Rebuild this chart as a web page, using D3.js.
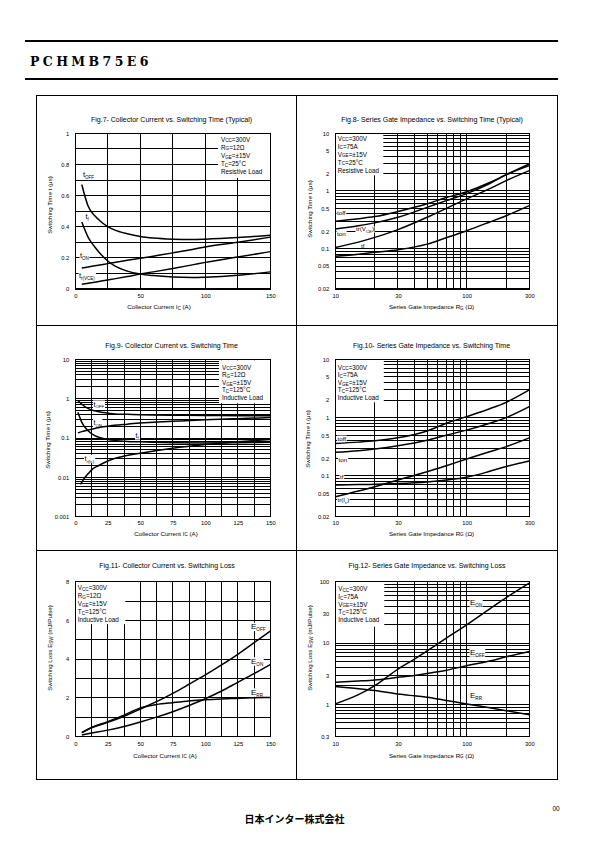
<!DOCTYPE html>
<html><head><meta charset="utf-8">
<script src="https://cdn.jsdelivr.net/npm/d3@7"></script>
<style>
body{margin:0;background:#fff}
svg{display:block}
text{font-family:"Liberation Sans",Arial,sans-serif;fill:#000}
</style>
</head><body>
<svg id="c" width="595" height="842"></svg>
<script>
// ---------------- DATA ----------------
// Fig.7  Collector current (A) vs switching time (us), Tc=25C resistive
const fig7Current = [5,10,15,20,25,30,40,50,60,75,90,100,125,150];
const fig7_tOFF  = [0.67,0.53,0.47,0.43,0.40,0.38,0.355,0.337,0.327,0.32,0.318,0.32,0.33,0.345];
const fig7_tf    = [0.43,0.33,0.27,0.22,0.18,0.15,0.115,0.096,0.086,0.077,0.074,0.076,0.088,0.11];
const fig7_tON   = [0.135,0.142,0.149,0.156,0.163,0.170,0.184,0.197,0.211,0.232,0.254,0.27,0.30,0.333];
const fig7_trVCE = [0.03,0.037,0.044,0.051,0.058,0.065,0.080,0.096,0.110,0.132,0.155,0.171,0.205,0.24];
const fig7YTicks = [0,0.2,0.4,0.6,0.8,1];
const fig7YLabels = ["0","0.2","0.4","0.6","0.8","1"];
const fig7XTicks = [0,50,100,150];
const fig7XGrid = [25,50,75,100,125];

// Fig.8  Series gate impedance (ohm) vs switching time (us), Tc=25C resistive
const fig8Rg   = [10,15,20,30,50,70,100,150,200,300];
const fig8_toff = [0.30,0.33,0.36,0.44,0.60,0.77,0.97,1.40,1.92,2.94];
const fig8_ton  = [0.22,0.25,0.28,0.35,0.52,0.68,0.90,1.35,1.90,2.75];
const fig8_tr   = [0.105,0.13,0.157,0.214,0.35,0.50,0.73,1.10,1.51,2.25];
const fig8_tf   = [0.074,0.080,0.0865,0.096,0.12,0.155,0.205,0.29,0.373,0.557];
const fig8YTicks = [0.02,0.05,0.1,0.2,0.5,1,2,5,10];
const fig8YLabels = ["0.02","0.05","0.1","0.2","0.5","1","2","5","10"];
const rgXTicks = [10,30,100,300];
const rgXLabels = ["10","30","100","300"];

// Fig.9  Collector current vs switching time, Tc=125C inductive
const fig9Current = [2,5,10,15,20,25,30,40,50,60,75,100,125,150];
const fig9_tOFF = [0.90,0.72,0.56,0.49,0.45,0.43,0.41,0.40,0.39,0.385,0.38,0.375,0.37,0.37];
const fig9_tON  = [0.135,0.145,0.16,0.175,0.19,0.20,0.21,0.225,0.24,0.25,0.265,0.29,0.31,0.33];
const fig9_tf   = [0.45,0.25,0.15,0.115,0.10,0.092,0.087,0.082,0.080,0.078,0.076,0.075,0.076,0.078];
const fig9CurrentTr = [4,6,8,10,13,18,25,35,50,75,100,125,150];
const fig9_trIc = [0.0066,0.0085,0.0105,0.0125,0.016,0.02,0.026,0.033,0.041,0.055,0.068,0.08,0.092];
const fig9YTicks = [0.001,0.01,0.1,1,10];
const fig9YLabels = ["0.001","0.01","0.1","1","10"];
const ic25Ticks = [0,25,50,75,100,125,150];
const ic12Grid = [12.5,25,37.5,50,62.5,75,87.5,100,112.5,125,137.5];

// Fig.10 Series gate impedance vs switching time, Tc=125C inductive
const fig10Rg = [10,15,20,30,50,70,100,150,200,300];
const fig10_toff = [0.36,0.38,0.40,0.45,0.59,0.80,1.04,1.42,1.83,2.98];
const fig10_ton  = [0.254,0.27,0.29,0.33,0.41,0.50,0.61,0.80,1.00,1.54];
const fig10_trIc = [0.044,0.055,0.0655,0.085,0.118,0.15,0.195,0.26,0.318,0.45];
const fig10_tf   = [0.070,0.071,0.0718,0.074,0.079,0.085,0.095,0.12,0.145,0.18];

// Fig.11 Collector current vs switching loss (mJ/pulse)
const fig11Current = [5,12.5,25,37.5,50,62.5,75,87.5,100,112.5,125,137.5,150];
const fig11_EOFF = [0.20,0.45,0.73,1.05,1.42,1.80,2.23,2.70,3.18,3.70,4.25,4.85,5.45];
const fig11_EON  = [0.08,0.18,0.33,0.52,0.75,1.00,1.28,1.60,1.95,2.35,2.80,3.25,3.72];
const fig11_ERR  = [0.20,0.47,0.77,1.10,1.48,1.65,1.75,1.84,1.90,1.94,1.97,2.00,2.02];
const fig11YTicks = [0,2,4,6,8];

// Fig.12 Series gate impedance vs switching loss
const fig12Rg = [10,15,20,30,40,50,70,100,150,200,300];
const fig12_EON  = [1.02,1.44,2.02,3.77,5.47,7.48,12.0,19.8,36,55,95];
const fig12_EOFF = [2.29,2.40,2.50,2.76,2.95,3.20,3.60,4.27,5.10,5.97,7.30];
const fig12_ERR  = [1.95,1.80,1.68,1.48,1.38,1.31,1.16,1.02,0.88,0.79,0.68];
const fig12YTicks = [0.3,1,3,10,30,100];
const fig12YLabels = ["0.3","1","3","10","30","100"];

// Condition legends
const legend7  = ["V_{CC}=300V","R_{G}=12Ω","V_{GE}=±15V","T_{C}=25°C","Resistive Load"];
const legend8  = ["V_{CC}=300V","I_{C}=75A","V_{GE}=±15V","T_{C}=25°C","Resistive Load"];
const legend9  = ["V_{CC}=300V","R_{G}=12Ω","V_{GE}=±15V","T_{C}=125°C","Inductive Load"];
const legend10 = ["V_{CC}=300V","I_{C}=75A","V_{GE}=±15V","T_{C}=125°C","Inductive Load"];
const legend11 = ["V_{CC}=300V","R_{G}=12Ω","V_{GE}=±15V","T_{C}=125°C","Inductive Load"];
const legend12 = ["V_{CC}=300V","I_{C}=75A","V_{GE}=±15V","T_{C}=125°C","Inductive Load"];

// ---------------- DRAWING ----------------
const svg = d3.select("#c");

// "_{...}" segments are drawn as subscripts
function rich(t, str, subSize, subDy){
  const parts = str.split(/(_\{[^}]*\})/).filter(s => s.length);
  let level = 0;
  parts.forEach(p => {
    const isSub = p.startsWith("_{");
    const lv = isSub ? 1 : 0;
    const s = t.append("tspan").text(isSub ? p.slice(2, -1) : p);
    if (isSub) s.attr("font-size", subSize);
    if (lv !== level) s.attr("dy", (lv - level) * subDy);
    level = lv;
  });
}

// page frame
svg.append("line").attr("x1",25).attr("x2",558).attr("y1",41).attr("y2",41).attr("stroke","#000").attr("stroke-width",2);
svg.append("line").attr("x1",25).attr("x2",558).attr("y1",79).attr("y2",79).attr("stroke","#000").attr("stroke-width",2);
svg.append("text").attr("x",30).attr("y",65.5).attr("font-size",12.5).attr("font-weight","bold").attr("letter-spacing",3.4)
  .style("font-family","'DejaVu Serif','Liberation Serif',serif").text("PCHMB75E6");
const box = svg.append("g").attr("stroke","#000").attr("stroke-width",1).attr("fill","none").attr("shape-rendering","crispEdges");
box.append("rect").attr("x",36.5).attr("y",95.5).attr("width",520.5).attr("height",683.5);
box.append("line").attr("x1",296).attr("x2",296).attr("y1",95.5).attr("y2",779);
box.append("line").attr("x1",36.5).attr("x2",557).attr("y1",325).attr("y2",325);
box.append("line").attr("x1",36.5).attr("x2",557).attr("y1",550).attr("y2",550);
svg.append("text").attr("x",556).attr("y",810.5).attr("text-anchor","middle").attr("font-size",6.5).text("00");
svg.append("text").attr("x",294.5).attr("y",822.5).attr("text-anchor","middle").attr("font-size",10)
  .attr("font-weight","bold").style("font-family","'Noto Sans CJK JP',sans-serif").text("日本インター株式会社");

function chart(c){
  const g = svg.append("g");
  const x = (c.xLog ? d3.scaleLog() : d3.scaleLinear()).domain(c.xDomain).range([c.left, c.right]);
  const y = (c.yLog ? d3.scaleLog() : d3.scaleLinear()).domain(c.yDomain).range([c.bottom, c.top]);
  const yGrid = c.yLog ? y.ticks() : y.ticks(10);
  const xGrid = c.xGrid || x.ticks();
  const grid = g.append("g").attr("stroke","#000").attr("stroke-width",1).attr("shape-rendering","crispEdges");
  grid.selectAll(".h").data(yGrid).join("line").attr("x1",c.left).attr("x2",c.right)
    .attr("y1",d=>y(d)).attr("y2",d=>y(d));
  grid.selectAll(".v").data(xGrid).join("line").attr("y1",c.top).attr("y2",c.bottom)
    .attr("x1",d=>x(d)).attr("x2",d=>x(d));
  const bgLayer = g.append("g");
  // legend box
  const lb = c.legendBox;
  g.append("rect").attr("x",lb[0]).attr("y",lb[1]).attr("width",lb[2]).attr("height",lb[3]).attr("fill","#fff");
  c.legend.forEach((s,i)=>{
    const t = g.append("text").attr("x",lb[0]+c.legendPad).attr("y",c.legendY0 + i*c.legendDy).attr("font-size",6.3);
    rich(t, s, 4.6, 0.8);
  });
  // frame
  g.append("rect").attr("x",c.left).attr("y",c.top).attr("width",c.right-c.left).attr("height",c.bottom-c.top)
    .attr("fill","none").attr("stroke","#000").attr("stroke-width",1.2).attr("shape-rendering","crispEdges");
  // axes labels
  const ya = g.append("g").attr("transform",`translate(${c.left},0)`)
    .call(d3.axisLeft(y).tickValues(c.yTicks).tickFormat((d,i)=>c.yLabels[i]).tickSize(0).tickPadding(6));
  const xa = g.append("g").attr("transform",`translate(0,${c.bottom})`)
    .call(d3.axisBottom(x).tickValues(c.xTicks).tickFormat((d,i)=>c.xLabels[i]).tickSize(0).tickPadding(c.xPad));
  [ya,xa].forEach(a=>{a.select(".domain").remove(); a.selectAll("text").attr("font-size",5.8).style("font-family","'Liberation Sans',Arial,sans-serif");});
  // curve labels (white backing sits under the curves)
  c.labels.forEach(L=>{
    const t = g.append("text").attr("x",L[1]).attr("y",L[2]+L[3]*0.36).attr("font-size",L[3]);
    rich(t, L[0], L[4], L[3]*0.25);
    const bb = t.node().getBBox();
    bgLayer.append("rect").attr("x",bb.x-0.5).attr("y",bb.y+0.8).attr("width",bb.width+1).attr("height",bb.height-1.6).attr("fill","#fff");
  });
  // curves
  const line = d3.line().x(d=>x(d[0])).y(d=>y(d[1])).curve(d3.curveMonotoneX);
  c.series.forEach(s=>{
    const pts = s.x.map((v,i)=>[v,s.y[i]]);
    g.append("path").attr("d",line(pts)).attr("fill","none").attr("stroke","#000").attr("stroke-width",1.5);
  });
  // titles
  g.append("text").attr("x",c.titleX).attr("y",c.titleY).attr("text-anchor","middle").attr("font-size",7).text(c.title);
  const xt = g.append("text").attr("x",c.xTitleX).attr("y",c.xTitleY).attr("text-anchor","middle").attr("font-size",6.2);
  rich(xt, c.xTitle, 4.5, 0.6);
  const yt = g.append("text").attr("transform",`translate(${c.yTitleX},${c.yTitleY}) rotate(-90)`).attr("text-anchor","middle").attr("font-size",6.2);
  rich(yt, c.yTitle, 4.5, 0.6);
}

const L = {left:75.3, right:270.3};
const R = {left:335.3, right:529.3};
const row1 = {top:133.3, bottom:289, titleY:121.5, xTitleY:309.2};
const row2 = {top:359.3, bottom:516.7, titleY:348, xTitleY:535.5};
const row3 = {top:581.7, bottom:736.5, titleY:567.5, xTitleY:757.5};

chart(Object.assign({}, L, row1, {
  xDomain:[0,150], yDomain:[0,1], xGrid:fig7XGrid,
  xTicks:fig7XTicks, xLabels:fig7XTicks.map(String), yTicks:fig7YTicks, yLabels:fig7YLabels, xPad:5,
  legend:legend7, legendBox:[218,134,52,44], legendPad:3, legendY0:141.5, legendDy:8.1,
  series:[{x:fig7Current,y:fig7_tOFF},{x:fig7Current,y:fig7_tf},{x:fig7Current,y:fig7_tON},{x:fig7Current,y:fig7_trVCE}],
  labels:[["t_{OFF}",83,174.5,7.5,4.5],["t_{f}",85.5,216.5,7.5,4.5],["t_{ON}",80,255,7.5,4.5],["t_{r(VCE)}",79,275,7.5,4.5]],
  title:"Fig.7- Collector Current vs. Switching Time (Typical)", titleX:171.5,
  xTitle:"Collector Current I_{C}  (A)", xTitleX:159,
  yTitle:"Switching Time t  (μs)", yTitleX:52, yTitleY:205
}));

chart(Object.assign({}, R, row1, {
  xLog:true, yLog:true, xDomain:[10,300], yDomain:[0.02,10],
  xTicks:rgXTicks, xLabels:rgXLabels, yTicks:fig8YTicks, yLabels:fig8YLabels, xPad:5,
  legend:legend8, legendBox:[335.3,133.3,48,42], legendPad:2.5, legendY0:140.5, legendDy:8.0,
  series:[{x:fig8Rg,y:fig8_toff},{x:fig8Rg,y:fig8_ton},{x:fig8Rg,y:fig8_tr},{x:fig8Rg,y:fig8_tf}],
  labels:[["toff",337,212.5,6.2,4.3],["ton",337,234,6.2,4.3],["tr(V_{CE})",356,229,6.2,4.3],["tf",361,245.5,6.2,4.3]],
  title:"Fig.8- Series Gate Impedance vs. Switching Time  (Typical)", titleX:432,
  xTitle:"Series Gate Impedance R_{G}  (Ω)", xTitleX:431.5,
  yTitle:"Switching Time t  (μs)", yTitleX:312, yTitleY:209
}));

chart(Object.assign({}, L, row2, {
  yLog:true, xDomain:[0,150], yDomain:[0.001,10], xGrid:ic12Grid,
  xTicks:ic25Ticks, xLabels:ic25Ticks.map(String), yTicks:fig9YTicks, yLabels:fig9YLabels, xPad:4,
  legend:legend9, legendBox:[219,360.3,51.3,43], legendPad:3, legendY0:369.5, legendDy:7.6,
  series:[{x:fig9Current,y:fig9_tOFF},{x:fig9Current,y:fig9_tON},{x:fig9Current,y:fig9_tf},{x:fig9CurrentTr,y:fig9_trIc}],
  labels:[["t_{OFF}",93.5,404,7.2,4.3],["t_{ON}",93.5,422.5,7.2,4.3],["t_{f}",135.5,435,7.2,4.3],["t_{r(Ic)}",84.5,458.5,7.2,4.3]],
  title:"Fig.9- Collector Current vs. Switching Time", titleX:171.5,
  xTitle:"Collector Current I_{C}  (A)", xTitleX:166,
  yTitle:"Switching Time t  (μs)", yTitleX:49.5, yTitleY:440
}));

chart(Object.assign({}, R, row2, {
  xLog:true, yLog:true, xDomain:[10,300], yDomain:[0.02,10],
  xTicks:rgXTicks, xLabels:rgXLabels, yTicks:fig8YTicks, yLabels:fig8YLabels, xPad:4,
  legend:legend10, legendBox:[335.3,359.3,48.5,43], legendPad:2.5, legendY0:369.5, legendDy:7.6,
  series:[{x:fig10Rg,y:fig10_toff},{x:fig10Rg,y:fig10_ton},{x:fig10Rg,y:fig10_trIc},{x:fig10Rg,y:fig10_tf}],
  labels:[["toff",337.5,438.5,6.2,4.3],["ton",338.5,460,6.2,4.3],["tf",340,476.7,6.2,4.3],["tr(I_{c})",337.5,500,6.2,4.3]],
  title:"Fig.10- Series Gate Impedance vs. Switching Time", titleX:431.5,
  xTitle:"Series Gate Impedance R_{G}  (Ω)", xTitleX:431.5,
  yTitle:"Switching Time t  (μs)", yTitleX:310, yTitleY:439
}));

chart(Object.assign({}, L, row3, {
  xDomain:[0,150], yDomain:[0,8], xGrid:ic12Grid,
  xTicks:ic25Ticks, xLabels:ic25Ticks.map(String), yTicks:fig11YTicks, yLabels:fig11YTicks.map(String), xPad:5,
  legend:legend11, legendBox:[75.3,581.7,50,42.5], legendPad:2.5, legendY0:590, legendDy:8.1,
  series:[{x:fig11Current,y:fig11_EOFF},{x:fig11Current,y:fig11_EON},{x:fig11Current,y:fig11_ERR}],
  labels:[["E_{OFF}",251,626,8,4.6],["E_{ON}",251,660.7,8,4.6],["E_{RR}",251,691.7,8,4.6]],
  title:"Fig.11- Collector Current vs. Switching Loss", titleX:167,
  xTitle:"Collector Current I_{C}  (A)", xTitleX:165,
  yTitle:"Switching Loss E_{SW} (mJ/Pulse)", yTitleX:52, yTitleY:648
}));

chart(Object.assign({}, R, row3, {
  xLog:true, yLog:true, xDomain:[10,300], yDomain:[0.3,100],
  xTicks:rgXTicks, xLabels:rgXLabels, yTicks:fig12YTicks, yLabels:fig12YLabels, xPad:5,
  legend:legend12, legendBox:[335.3,581.7,49,45], legendPad:3, legendY0:591, legendDy:7.8,
  series:[{x:fig12Rg,y:fig12_EON},{x:fig12Rg,y:fig12_EOFF},{x:fig12Rg,y:fig12_ERR}],
  labels:[["E_{ON}",470,601.7,8,4.6],["E_{OFF}",470,651.7,8,4.6],["E_{RR}",470,695.5,8,4.6]],
  title:"Fig.12- Series Gate Impedance vs. Switching Loss", titleX:427,
  xTitle:"Series Gate Impedance R_{G}  (Ω)", xTitleX:431.5,
  yTitle:"Switching Loss E_{SW} (mJ/Pulse)", yTitleX:312, yTitleY:648
}));
</script>
</body></html>
